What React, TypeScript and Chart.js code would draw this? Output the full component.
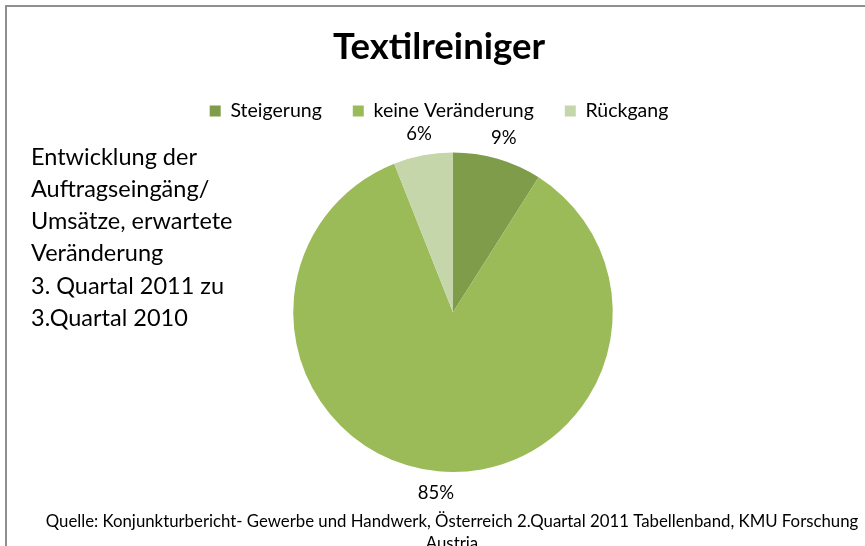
import React, { useEffect, useRef } from 'react';
import { Chart, registerables, layouts } from 'chart.js';

Chart.register(...registerables);

const chartTitle = 'Textilreiniger';
const categories = ['Steigerung', 'keine Veränderung', 'Rückgang'];
const values = [9, 85, 6];
const colors = ['#7F9C4A', '#9BBB59', '#C5D6AB'];
const sideText = [
  'Entwicklung der',
  'Auftragseingäng/',
  'Umsätze, erwartete',
  'Veränderung',
  '3. Quartal 2011 zu',
  '3.Quartal 2010',
];
const sourceLines = [
  'Quelle: Konjunkturbericht- Gewerbe und Handwerk, Österreich 2.Quartal 2011 Tabellenband, KMU Forschung',
  'Austria',
];

const FONT = 'Lato, Carlito, Calibri, "Open Sans", sans-serif';

function makeSpacer(position: string, size: number, weight: number) {
  return {
    position,
    weight,
    fullSize: false,
    options: {},
    width: 0,
    height: 0,
    left: 0,
    top: 0,
    right: 0,
    bottom: 0,
    isHorizontal() {
      return position === 'top' || position === 'bottom';
    },
    update(maxWidth: number, maxHeight: number) {
      if (this.isHorizontal()) {
        this.width = maxWidth;
        this.height = size;
      } else {
        this.width = size;
        this.height = maxHeight;
      }
    },
    draw() {},
  };
}

const spacerPlugin = {
  id: 'spacers',
  beforeInit(chart: any) {
    layouts.addBox(chart, makeSpacer('top', 21.75, 0) as any);
    layouts.addBox(chart, makeSpacer('left', 28, 0) as any);
  },
};

const decorPlugin = {
  id: 'decor',
  beforeDraw(chart: any) {
    const ctx = chart.ctx;
    ctx.save();
    ctx.fillStyle = '#ffffff';
    ctx.fillRect(0, 0, chart.width, chart.height);
    ctx.strokeStyle = '#8f8f8f';
    ctx.lineWidth = 2;
    ctx.beginPath();
    ctx.moveTo(6, chart.height + 5);
    ctx.lineTo(6, 6);
    ctx.lineTo(chart.width + 5, 6);
    ctx.stroke();
    ctx.restore();
  },
  afterDatasetsDraw(chart: any) {
    const ctx = chart.ctx;
    const meta = chart.getDatasetMeta(0);
    ctx.save();
    ctx.fillStyle = '#000000';
    ctx.font = `18.5px ${FONT}`;
    ctx.textAlign = 'center';
    ctx.textBaseline = 'middle';
    meta.data.forEach((arc: any, i: number) => {
      const p = arc.getProps(['x', 'y', 'startAngle', 'endAngle', 'outerRadius'], true);
      const mid = (p.startAngle + p.endAngle) / 2;
      const r = p.outerRadius + 22;
      const lx = p.x + Math.cos(mid) * r;
      const ly = p.y + Math.sin(mid) * r;
      ctx.fillText(`${values[i]}%`, lx, ly);
    });
    // left description
    ctx.textAlign = 'left';
    ctx.font = `23.5px ${FONT}`;
    sideText.forEach((line, i) => {
      ctx.fillText(line, 31, 157 + i * 32.3);
    });
    // source
    ctx.textAlign = 'center';
    ctx.font = `16.8px ${FONT}`;
    sourceLines.forEach((line, i) => {
      ctx.fillText(line, 452, 522 + i * 22);
    });
    ctx.restore();
  },
};

export default function App() {
  const ref = useRef<HTMLCanvasElement | null>(null);
  useEffect(() => {
    if (!ref.current) return;
    const chart = new Chart(ref.current, {
      type: 'pie',
      data: {
        labels: categories,
        datasets: [
          {
            data: values,
            backgroundColor: colors,
            borderWidth: 0,
            hoverOffset: 0,
          },
        ],
      },
      options: {
        responsive: false,
        animation: false,
        layout: { padding: { left: 13, right: 0, top: 0, bottom: 74 } },
        plugins: {
          title: {
            display: true,
            text: chartTitle,
            color: '#000000',
            font: { family: FONT, size: 36.5, weight: 'bold' },
            padding: { top: 25.1, bottom: 1.35 },
          },
          legend: {
            display: true,
            position: 'top',
            labels: {
              boxWidth: 11,
              boxHeight: 11,
              padding: 31,
              color: '#000000',
              font: { family: FONT, size: 19.5 },
            },
          },
          tooltip: { enabled: false },
        },
      } as any,
      plugins: [spacerPlugin, decorPlugin],
    });
    return () => chart.destroy();
  }, []);
  return (
    <div style={{ position: 'fixed', left: 0, top: 0, width: 865, height: 546, background: '#fff' }}>
      <canvas ref={ref} width={865} height={546} style={{ display: 'block' }} />
    </div>
  );
}
